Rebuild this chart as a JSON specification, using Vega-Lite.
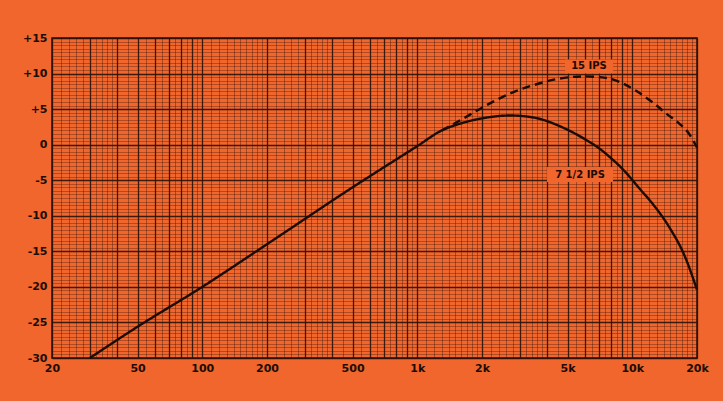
{
  "$schema": "https://vega.github.io/schema/vega-lite/v6.json",
  "width": 645,
  "height": 320,
  "autosize": {"type": "none"},
  "padding": {"left": 52, "top": 38, "right": 26, "bottom": 43},
  "background": "#f0662c",
  "config": {
    "view": {"stroke": "#2a120a", "strokeWidth": 1.5, "fill": "#f0662c"}
  },
  "datasets": {
    "curves": [
      {"series": "7 1/2 IPS", "freq": 30, "db": -30},
      {"series": "7 1/2 IPS", "freq": 50, "db": -25.6},
      {"series": "7 1/2 IPS", "freq": 100, "db": -20},
      {"series": "7 1/2 IPS", "freq": 200, "db": -14},
      {"series": "7 1/2 IPS", "freq": 500, "db": -6},
      {"series": "7 1/2 IPS", "freq": 1000, "db": -0.2},
      {"series": "7 1/2 IPS", "freq": 1300, "db": 2.0},
      {"series": "7 1/2 IPS", "freq": 1600, "db": 3.0},
      {"series": "7 1/2 IPS", "freq": 2000, "db": 3.7},
      {"series": "7 1/2 IPS", "freq": 2700, "db": 4.1},
      {"series": "7 1/2 IPS", "freq": 3500, "db": 3.8},
      {"series": "7 1/2 IPS", "freq": 4600, "db": 2.6},
      {"series": "7 1/2 IPS", "freq": 6000, "db": 0.8},
      {"series": "7 1/2 IPS", "freq": 7000, "db": -0.5},
      {"series": "7 1/2 IPS", "freq": 7900, "db": -1.8},
      {"series": "7 1/2 IPS", "freq": 9000, "db": -3.4},
      {"series": "7 1/2 IPS", "freq": 10900, "db": -6.3},
      {"series": "7 1/2 IPS", "freq": 12500, "db": -8.4},
      {"series": "7 1/2 IPS", "freq": 15000, "db": -11.8},
      {"series": "7 1/2 IPS", "freq": 17500, "db": -15.6},
      {"series": "7 1/2 IPS", "freq": 20000, "db": -20.4},
      {"series": "15 IPS", "freq": 1300, "db": 2.0},
      {"series": "15 IPS", "freq": 1600, "db": 3.5},
      {"series": "15 IPS", "freq": 2000, "db": 5.2},
      {"series": "15 IPS", "freq": 2700, "db": 7.2},
      {"series": "15 IPS", "freq": 3500, "db": 8.4},
      {"series": "15 IPS", "freq": 4600, "db": 9.3},
      {"series": "15 IPS", "freq": 6000, "db": 9.6},
      {"series": "15 IPS", "freq": 7500, "db": 9.4},
      {"series": "15 IPS", "freq": 8600, "db": 8.9},
      {"series": "15 IPS", "freq": 10500, "db": 7.5},
      {"series": "15 IPS", "freq": 12500, "db": 5.9},
      {"series": "15 IPS", "freq": 14500, "db": 4.3},
      {"series": "15 IPS", "freq": 16500, "db": 3.0},
      {"series": "15 IPS", "freq": 18500, "db": 1.4},
      {"series": "15 IPS", "freq": 20000, "db": -0.4}
    ],
    "labels": [
      {"label": "15 IPS", "freq": 6290, "db": 11.0},
      {"label": "7 1/2 IPS", "freq": 5714, "db": -4.2}
    ]
  },
  "layer": [
    {
      "data": {"name": "curves"},
      "mark": {"type": "line", "strokeWidth": 2.4, "color": "#1c0c06", "interpolate": "monotone"},
      "encoding": {
        "x": {
          "field": "freq",
          "type": "quantitative",
          "scale": {"type": "log", "domain": [20, 20000], "nice": false},
          "axis": {
            "values": [20,22,24,26,28,30,32,34,36,38,40,45,50,55,60,65,70,75,80,85,90,95,
              100,110,120,130,140,150,160,170,180,190,200,220,240,260,280,300,320,340,360,380,400,450,500,550,600,650,700,750,800,850,900,950,
              1000,1100,1200,1300,1400,1500,1600,1700,1800,1900,2000,2200,2400,2600,2800,3000,3200,3400,3600,3800,4000,4500,5000,5500,6000,6500,7000,7500,8000,8500,9000,9500,
              10000,11000,12000,13000,14000,15000,16000,17000,18000,19000,20000],
            "tickCount": 1000,
            "labelExpr": "indexof([20,50,100,200,500,1000,2000,5000,10000,20000], datum.value) >= 0 ? (datum.value >= 1000 ? (datum.value / 1000) + 'k' : '' + datum.value) : ''",
            "grid": true,
            "gridColor": "#2a120a",
            "gridWidth": {"condition": {"test": "indexof([20,30,40,50,60,70,80,90,100,200,300,400,500,600,700,800,900,1000,2000,3000,4000,5000,6000,7000,8000,9000,10000,20000], datum.value) >= 0", "value": 1.3}, "value": 0.6},
            "gridOpacity": {"condition": {"test": "indexof([20,30,40,50,60,70,80,90,100,200,300,400,500,600,700,800,900,1000,2000,3000,4000,5000,6000,7000,8000,9000,10000,20000], datum.value) >= 0", "value": 0.9}, "value": 0.6},
            "ticks": false,
            "domain": false,
            "title": null,
            "labelOverlap": false,
            "labelFlush": false,
            "labelBound": false,
            "labelFont": "DejaVu Sans",
            "labelFontWeight": "bold",
            "labelFontSize": 11,
            "labelColor": "#1c0c06",
            "labelPadding": 4
          }
        },
        "y": {
          "field": "db",
          "type": "quantitative",
          "scale": {"domain": [-30, 15], "nice": false, "zero": false},
          "axis": {
            "values": [-30,-29.5,-29,-28.5,-28,-27.5,-27,-26.5,-26,-25.5,-25,-24.5,-24,-23.5,-23,-22.5,-22,-21.5,-21,-20.5,-20,-19.5,-19,-18.5,-18,-17.5,-17,-16.5,-16,-15.5,-15,-14.5,-14,-13.5,-13,-12.5,-12,-11.5,-11,-10.5,-10,-9.5,-9,-8.5,-8,-7.5,-7,-6.5,-6,-5.5,-5,-4.5,-4,-3.5,-3,-2.5,-2,-1.5,-1,-0.5,0,0.5,1,1.5,2,2.5,3,3.5,4,4.5,5,5.5,6,6.5,7,7.5,8,8.5,9,9.5,10,10.5,11,11.5,12,12.5,13,13.5,14,14.5,15],
            "tickCount": 1000,
            "labelExpr": "datum.value % 5 === 0 ? (datum.value > 0 ? '+' + datum.value : '' + datum.value) : ''",
            "grid": true,
            "gridColor": "#2a120a",
            "gridWidth": {"condition": {"test": "datum.value % 5 === 0", "value": 1.3}, "value": 0.6},
            "gridOpacity": {"condition": {"test": "datum.value % 5 === 0", "value": 0.9}, "value": 0.55},
            "ticks": false,
            "domain": false,
            "title": null,
            "labelOverlap": false,
            "labelFlush": false,
            "labelBound": false,
            "labelFont": "DejaVu Sans",
            "labelFontWeight": "bold",
            "labelFontSize": 11,
            "labelColor": "#1c0c06",
            "labelPadding": 5
          }
        },
        "strokeDash": {
          "field": "series",
          "type": "nominal",
          "scale": {"domain": ["7 1/2 IPS", "15 IPS"], "range": [[1, 0], [8, 5]]},
          "legend": null
        }
      }
    },
    {
      "data": {"name": "labels"},
      "transform": [{"filter": "datum.label === '15 IPS'"}],
      "mark": {"type": "rect", "width": 48, "height": 14, "color": "#f0662c"},
      "encoding": {
        "x": {"field": "freq", "type": "quantitative", "scale": {"type": "log", "domain": [20, 20000], "nice": false}},
        "y": {"field": "db", "type": "quantitative", "scale": {"domain": [-30, 15], "nice": false, "zero": false}}
      }
    },
    {
      "data": {"name": "labels"},
      "transform": [{"filter": "datum.label !== '15 IPS'"}],
      "mark": {"type": "rect", "width": 66, "height": 15, "color": "#f0662c"},
      "encoding": {
        "x": {"field": "freq", "type": "quantitative", "scale": {"type": "log", "domain": [20, 20000], "nice": false}},
        "y": {"field": "db", "type": "quantitative", "scale": {"domain": [-30, 15], "nice": false, "zero": false}}
      }
    },
    {
      "data": {"name": "labels"},
      "mark": {"type": "text", "font": "DejaVu Sans", "fontWeight": "bold", "fontSize": 10, "color": "#1c0c06"},
      "encoding": {
        "x": {"field": "freq", "type": "quantitative", "scale": {"type": "log", "domain": [20, 20000], "nice": false}},
        "y": {"field": "db", "type": "quantitative", "scale": {"domain": [-30, 15], "nice": false, "zero": false}},
        "text": {"field": "label", "type": "nominal"}
      }
    }
  ]
}
